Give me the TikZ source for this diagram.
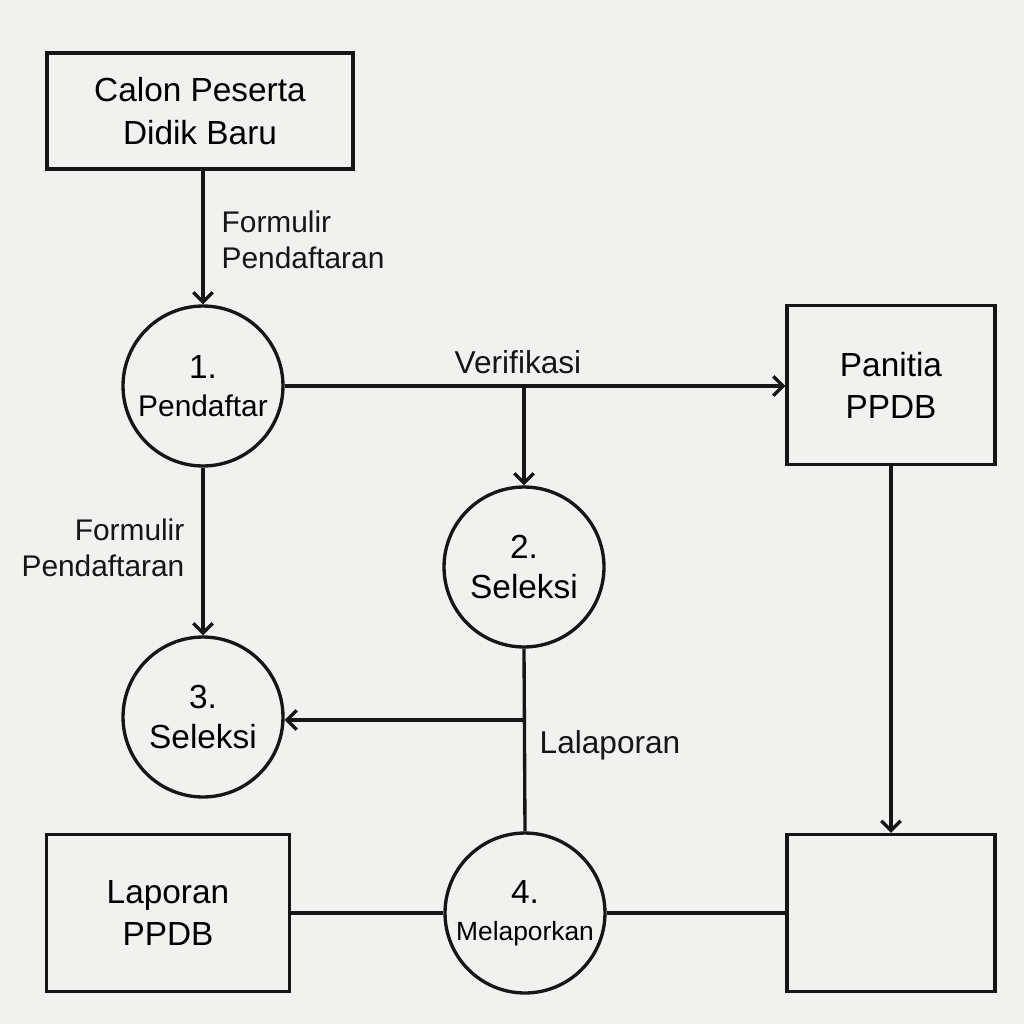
\documentclass[tikz,border=0pt]{standalone}
\usepackage{fontspec}
\setmainfont{Liberation Sans}
\usetikzlibrary{arrows.meta,positioning,calc}

\definecolor{paper}{RGB}{241,241,240}
\definecolor{ink}{RGB}{22,22,22}

\begin{document}
\begin{tikzpicture}[
  x=0.02cm, y=-0.02cm,
  line width=1.9pt,
  box/.style={rectangle, draw=ink, inner sep=0pt, align=center,
              font=\fontsize{19}{24}\selectfont},
  proc/.style={circle, draw=ink, minimum size=3.2cm, inner sep=0pt,
               align=center, font=\fontsize{19}{23}\selectfont},
  arr/.style={-{Straight Barb[length=5.5pt,width=11pt,line width=1.9pt]}, draw=ink},
  line/.style={draw=ink},
  lbl/.style={inner sep=0pt, text=ink, font=\fontsize{17}{20.5}\selectfont}
]

% Background / margins
\fill[paper] (0,0) rectangle (1024,1024);
\useasboundingbox (0,0) rectangle (1024,1024);

% External entities
\node[box, minimum width=6.12cm, minimum height=2.32cm] (calon) at (200,111)
  {Calon Peserta\\Didik Baru};
\node[box, minimum width=4.16cm, minimum height=3.18cm] (panitia) at (891,385)
  {Panitia\\PPDB};
\node[box, minimum width=4.86cm, minimum height=3.14cm] (laporan) at (168,913)
  {Laporan\\PPDB};
\node[box, minimum width=4.16cm, minimum height=3.14cm] (kosong) at (891,913) {};

% Processes
\node[proc] (p1) at (203,386) {1.\\[-1pt]{\fontsize{17}{20}\selectfont Pendaftar}};
\node[proc] (p2) at (524,567) {2.\\Seleksi};
\node[proc] (p3) at (203,717) {3.\\Seleksi};
\node[proc] (p4) at (525,913) {4.\\[-2pt]{\fontsize{15}{18}\selectfont Melaporkan}};

% Junctions
\coordinate (j1) at (p2.north |- p1.east);
\coordinate (j2) at ($(p2.south)!0.39!(p4.north)$);

% Arrows
\draw[arr] (p1.north |- calon.south) -- (p1.north);
\draw[arr] (p1.east) -- (p1.east -| panitia.west);
\draw[arr] (j1) -- (p2.north);
\draw[arr] (p1.south) -- (p3.north);
\draw[line] (p2.south) -- (p4.north);
\draw[arr] (j2) -- (j2 -| p3.east);
\draw[line] (laporan.east) -- (p4.west);
\draw[line] (p4.east) -- (kosong.west);
\draw[arr] (panitia.south) -- (kosong.north);

% Labels
\node[lbl, anchor=west, align=left] (f1) at (220,240) {Formulir\\Pendaftaran};
\node[lbl, anchor=east, align=right] (f2) at (186,548) {Formulir\\Pendaftaran};
\node[lbl, font=\fontsize{18}{22}\selectfont] (verif) at (518,362) {Verifikasi};
\node[lbl, anchor=west, font=\fontsize{18}{22}\selectfont] (lap) at (538,745) {Lalaporan};

\end{tikzpicture}
\end{document}
